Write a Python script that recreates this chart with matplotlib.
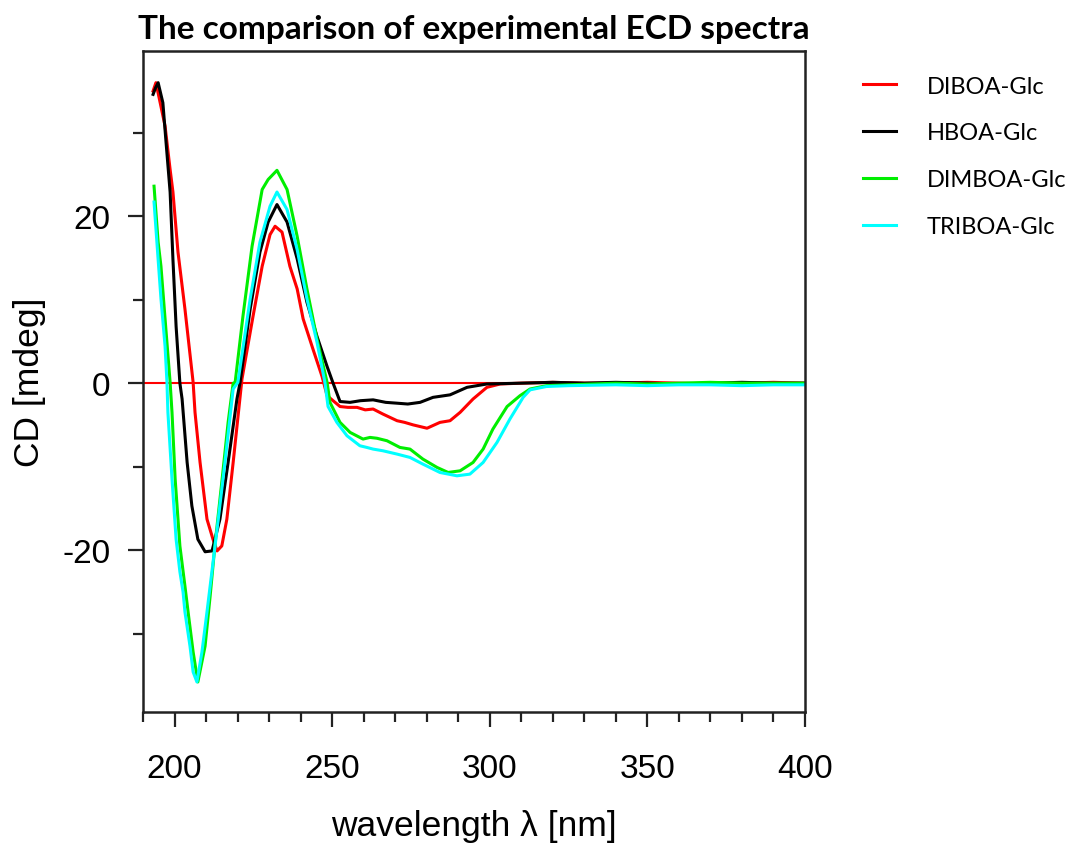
import numpy as np
import matplotlib
matplotlib.use("Agg")
from matplotlib import pyplot as plt
from matplotlib.ticker import MultipleLocator

# wavelength (nm) / CD (mdeg)
diboa_wl = [193.2, 194.1, 195.5, 197.0, 198.6, 199.5, 201.1, 203.3, 205.9, 206.5, 208.1, 210.3,
            212.2, 213.5, 215.0, 216.6, 218.6, 221.4, 224.9, 227.8, 230.3, 231.9, 234.1, 236.6,
            238.9, 240.8, 243.9, 246.8, 248.4, 252.5, 255.0, 257.9, 260.5, 263.0, 266.1, 270.6,
            273.0, 275.7, 280.1, 284.2, 287.4, 290.6, 294.7, 299.1, 303.3, 310.0, 320.0, 330.0,
            340.0, 350.0, 360.0, 370.0, 380.0, 390.0, 400.0]
diboa_cd = [35.0, 36.0, 33.5, 30.8, 25.6, 22.9, 15.7, 8.9, 0.1, -3.5, -9.5, -16.3,
            -18.7, -20.1, -19.5, -16.3, -9.5, 0.5, 8.0, 14.0, 17.8, 18.8, 18.1, 14.0,
            11.3, 7.7, 4.1, 0.8, -1.5, -2.8, -2.9, -2.9, -3.2, -3.1, -3.7, -4.5,
            -4.7, -5.0, -5.4, -4.7, -4.5, -3.5, -1.9, -0.5, -0.1, 0.0, 0.1, 0.0,
            0.0, 0.1, 0.0, -0.1, 0.0, 0.1, 0.0]

hboa_wl = [193.2, 194.0, 194.8, 196.3, 197.3, 198.6, 199.5, 200.5, 201.7, 202.4, 204.0, 205.5,
           207.4, 209.7, 211.9, 214.4, 217.0, 219.8, 220.8, 224.0, 227.1, 229.7, 232.5, 235.7,
           238.9, 242.0, 245.2, 248.4, 250.3, 252.5, 255.7, 259.0, 263.0, 267.0, 270.6, 274.0,
           277.9, 282.0, 287.4, 292.8, 299.1, 310.0, 320.0, 330.0, 340.0, 350.0, 360.0, 370.0,
           380.0, 390.0, 400.0]
hboa_cd = [34.6, 35.4, 36.0, 33.6, 28.9, 22.9, 14.8, 6.8, 0.0, -1.9, -9.5, -14.7,
           -18.7, -20.2, -20.1, -16.3, -9.5, -1.9, 0.1, 8.9, 15.7, 19.3, 21.4, 19.3,
           14.9, 9.7, 5.6, 2.0, 0.0, -2.2, -2.3, -2.1, -2.0, -2.3, -2.4, -2.5,
           -2.3, -1.7, -1.4, -0.5, -0.1, 0.0, 0.1, 0.0, 0.1, 0.0, -0.1, 0.0,
           0.1, 0.0, 0.0]

dimboa_wl = [193.5, 194.8, 195.7, 197.0, 198.6, 199.2, 200.2, 201.7, 203.3, 204.3, 205.9, 207.4,
             209.7, 211.3, 212.8, 215.1, 217.0, 218.6, 219.2, 221.7, 224.6, 227.8, 229.7, 232.5,
             235.7, 238.9, 242.0, 245.2, 248.4, 249.3, 252.5, 255.7, 259.8, 262.0, 264.2, 267.4,
             271.5, 274.7, 278.8, 283.3, 286.8, 290.6, 294.7, 297.9, 301.0, 305.5, 309.6, 312.8,
             318.0, 325.0, 340.0, 350.0, 360.0, 370.0, 380.0, 390.0, 400.0]
dimboa_cd = [23.6, 16.9, 14.0, 7.7, 0.1, -3.5, -11.5, -19.5, -24.3, -27.4, -32.2, -35.8,
             -31.5, -25.5, -19.5, -11.5, -4.7, 0.0, 0.0, 8.0, 16.4, 23.2, 24.4, 25.5,
             23.2, 17.6, 11.3, 5.3, 0.1, -2.3, -4.7, -5.9, -6.7, -6.5, -6.6, -6.9,
             -7.7, -7.9, -9.1, -10.1, -10.7, -10.5, -9.5, -7.9, -5.5, -2.8, -1.5, -0.7,
             -0.3, -0.2, 0.0, -0.1, 0.0, 0.1, 0.0, 0.0, 0.0]

triboa_wl = [193.5, 194.8, 195.7, 197.0, 197.6, 197.9, 199.2, 200.5, 201.7, 202.7, 203.3, 204.9,
             205.9, 207.1, 208.7, 210.3, 211.3, 213.5, 216.0, 218.6, 220.1, 224.0, 227.1, 230.3,
             232.5, 235.7, 238.9, 242.0, 245.2, 247.7, 248.7, 251.5, 254.7, 258.8, 261.0, 263.0,
             266.1, 270.6, 274.7, 278.8, 284.2, 289.6, 293.7, 297.9, 302.3, 306.4, 310.6, 312.8,
             318.0, 325.0, 340.0, 350.0, 360.0, 370.0, 380.0, 390.0, 400.0]
triboa_cd = [21.7, 14.8, 10.1, 4.4, 0.1, -3.5, -11.5, -18.7, -22.6, -25.0, -27.4, -31.5,
             -34.6, -35.8, -32.2, -27.4, -24.3, -17.5, -9.5, -0.7, 0.1, 10.1, 16.9, 21.2,
             22.9, 20.8, 16.0, 10.1, 4.9, 0.1, -2.8, -4.7, -6.3, -7.5, -7.7, -7.9,
             -8.1, -8.5, -8.9, -9.7, -10.7, -11.1, -10.9, -9.5, -7.1, -4.3, -1.7, -0.8,
             -0.4, -0.3, -0.2, -0.3, -0.2, -0.2, -0.3, -0.2, -0.2]

series = [("DIBOA-Glc", diboa_wl, diboa_cd, "#ff0000"),
          ("HBOA-Glc", hboa_wl, hboa_cd, "#000000"),
          ("DIMBOA-Glc", dimboa_wl, dimboa_cd, "#00ee00"),
          ("TRIBOA-Glc", triboa_wl, triboa_cd, "#00ffff")]

plt.rcParams["axes.unicode_minus"] = False

fig = plt.figure(figsize=(10.72, 8.45), dpi=100)
ax = fig.add_axes([0.1334, 0.1562, 0.6175, 0.7823])

ax.axhline(0, color="#ff0000", lw=1.5, zorder=1)
for name, wl, cd, col in series:
    ax.plot(wl, cd, color=col, lw=2.2, label=name, zorder=2)

ax.set_xlim(190, 400)
ax.set_ylim(-39.4, 39.8)

ax.xaxis.set_major_locator(MultipleLocator(50))
ax.xaxis.set_minor_locator(MultipleLocator(10))
ax.yaxis.set_major_locator(MultipleLocator(20))
ax.yaxis.set_minor_locator(MultipleLocator(10))
ax.tick_params(which="both", direction="out", width=1.6, colors="#222222",
               labelcolor="black", labelsize=24)
ax.tick_params(which="major", length=10.5)
ax.tick_params(which="minor", length=7)
ax.tick_params(axis="x", which="major", pad=19)
ax.tick_params(axis="y", which="major", pad=13)
for lab in ax.get_xticklabels() + ax.get_yticklabels():
    lab.set_family("Liberation Sans")
for sp in ax.spines.values():
    sp.set_linewidth(1.8)
    sp.set_color("#222222")

ax.set_xlabel("wavelength λ [nm]", family="Liberation Sans", fontsize=25.5, labelpad=18)
ax.set_ylabel("CD [mdeg]", family="Liberation Sans", fontsize=25.5, labelpad=12)
ax.set_title("The comparison of experimental ECD spectra", family="Lato",
             fontweight="bold", fontsize=24, pad=9)

ax.legend(loc="upper left", bbox_to_anchor=(1.056, 0.995), frameon=False,
          prop={"family": "Lato", "size": 17}, handlelength=1.4,
          handletextpad=1.3, labelspacing=1.1)

fig.savefig("out.png", dpi=100)
